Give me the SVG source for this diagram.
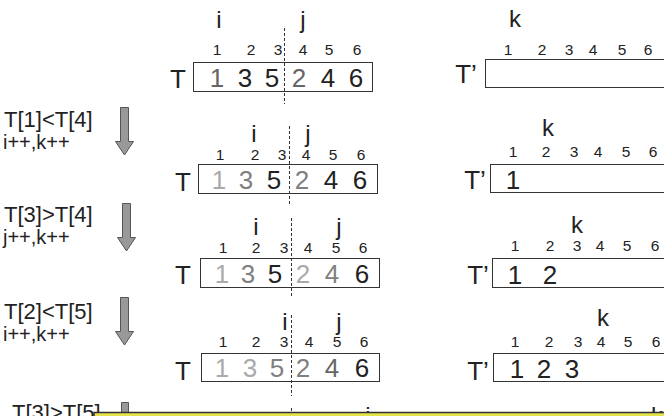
<svg xmlns="http://www.w3.org/2000/svg" width="664" height="416" viewBox="0 0 664 416">
<style>
text{font-family:"Liberation Sans",Arial,sans-serif;fill:#222}
.ptr{font-size:24px;text-anchor:middle}
.idx{font-size:15.5px;text-anchor:middle}
.val{font-size:26px;text-anchor:middle}
.lbl{font-size:26px;text-anchor:middle}
.cond{font-size:22px}
.inc{font-size:20px}
.box{fill:#fff;stroke:#333;stroke-width:1}
.dash{stroke:#333;stroke-width:1;stroke-dasharray:3,2;fill:none}
.arr{fill:#999;stroke:#555;stroke-width:1}
.g1{fill:#aaa}.g2{fill:#808080}.g3{fill:#666}
</style>
<rect width="664" height="416" fill="#fff"/>

<g id="row1">
<g id="T1">
<text class="ptr" x="219" y="28">i</text>
<text class="ptr" x="303" y="28">j</text>
<text class="idx" x="217" y="55">1</text><text class="idx" x="251" y="55">2</text><text class="idx" x="278" y="55">3</text><text class="idx" x="303" y="55">4</text><text class="idx" x="329" y="55">5</text><text class="idx" x="357" y="55">6</text>
<text class="lbl" x="178" y="88">T</text>
<rect class="box" x="193.5" y="62.5" width="179" height="29"/>
<text class="val g3" x="217" y="87">1</text><text class="val" x="245" y="87">3</text><text class="val" x="272" y="87">5</text><text class="val g3" x="299" y="87">2</text><text class="val" x="328" y="87">4</text><text class="val" x="356" y="87">6</text>
<line class="dash" x1="284.5" y1="28" x2="284.5" y2="104"/>
</g>
<g id="Tp1">
<text class="ptr" x="515" y="27">k</text>
<text class="idx" x="508" y="55">1</text><text class="idx" x="542" y="55">2</text><text class="idx" x="569" y="55">3</text><text class="idx" x="593" y="55">4</text><text class="idx" x="622" y="55">5</text><text class="idx" x="648" y="55">6</text>
<text class="lbl" x="466" y="83">T’</text>
<rect class="box" x="485.5" y="59.5" width="190" height="28"/>
</g>
</g>

<g id="row2">
<g id="cond2"><text class="cond" x="4" y="127">T[1]&lt;T[4]</text><text class="inc" x="3" y="149">i++,k++</text></g>
<g id="T2">
<text class="ptr" x="254" y="142">i</text>
<text class="ptr" x="308" y="142">j</text>
<text class="idx" x="220" y="160">1</text><text class="idx" x="255" y="160">2</text><text class="idx" x="282" y="160">3</text><text class="idx" x="306" y="160">4</text><text class="idx" x="333" y="160">5</text><text class="idx" x="361" y="160">6</text>
<text class="lbl" x="183" y="191">T</text>
<rect class="box" x="198.5" y="164.5" width="179" height="29"/>
<text class="val g1" x="219" y="189">1</text><text class="val g2" x="246" y="189">3</text><text class="val" x="274" y="189">5</text><text class="val g2" x="302" y="189">2</text><text class="val" x="331" y="189">4</text><text class="val" x="360" y="189">6</text>
<line class="dash" x1="289.5" y1="126" x2="289.5" y2="204"/>
</g>
<g id="Tp2">
<text class="ptr" x="548" y="136">k</text>
<text class="idx" x="513" y="157">1</text><text class="idx" x="546" y="157">2</text><text class="idx" x="574" y="157">3</text><text class="idx" x="598" y="157">4</text><text class="idx" x="626" y="157">5</text><text class="idx" x="653" y="157">6</text>
<text class="lbl" x="475" y="189">T’</text>
<rect class="box" x="490.5" y="164.5" width="190" height="28"/>
<text class="val" x="513" y="189">1</text>
</g>
</g>

<g id="row3">
<g id="cond3"><text class="cond" x="4" y="222">T[3]&gt;T[4]</text><text class="inc" x="3" y="244">j++,k++</text></g>
<g id="T3">
<text class="ptr" x="256" y="235">i</text>
<text class="ptr" x="339" y="235">j</text>
<text class="idx" x="223" y="253">1</text><text class="idx" x="256" y="253">2</text><text class="idx" x="284" y="253">3</text><text class="idx" x="308" y="253">4</text><text class="idx" x="336" y="253">5</text><text class="idx" x="363" y="253">6</text>
<text class="lbl" x="183" y="284">T</text>
<rect class="box" x="200.5" y="258.5" width="179" height="29"/>
<text class="val g1" x="222" y="283">1</text><text class="val g2" x="248" y="283">3</text><text class="val" x="275" y="283">5</text><text class="val g1" x="303" y="283">2</text><text class="val g2" x="332" y="283">4</text><text class="val" x="362" y="283">6</text>
<line class="dash" x1="291.5" y1="218" x2="291.5" y2="298"/>
</g>
<g id="Tp3">
<text class="ptr" x="577" y="233">k</text>
<text class="idx" x="515" y="251">1</text><text class="idx" x="550" y="251">2</text><text class="idx" x="577" y="251">3</text><text class="idx" x="600" y="251">4</text><text class="idx" x="627" y="251">5</text><text class="idx" x="655" y="251">6</text>
<text class="lbl" x="478" y="284">T’</text>
<rect class="box" x="492.5" y="258.5" width="190" height="29"/>
<text class="val" x="515" y="284">1</text><text class="val" x="550" y="284">2</text>
</g>
</g>

<g id="row4">
<g id="cond4"><text class="cond" x="4" y="319">T[2]&lt;T[5]</text><text class="inc" x="3" y="341">i++,k++</text></g>
<g id="T4">
<text class="ptr" x="285" y="330">i</text>
<text class="ptr" x="339" y="330">j</text>
<text class="idx" x="223" y="347">1</text><text class="idx" x="256" y="347">2</text><text class="idx" x="284" y="347">3</text><text class="idx" x="309" y="347">4</text><text class="idx" x="337" y="347">5</text><text class="idx" x="364" y="347">6</text>
<text class="lbl" x="183" y="380">T</text>
<rect class="box" x="201.5" y="353.5" width="178" height="28"/>
<text class="val g1" x="222" y="377">1</text><text class="val g1" x="250" y="377">3</text><text class="val g2" x="277" y="377">5</text><text class="val g2" x="303" y="377">2</text><text class="val g3" x="332" y="377">4</text><text class="val" x="362" y="377">6</text>
<line class="dash" x1="291.5" y1="315" x2="291.5" y2="396"/>
</g>
<g id="Tp4">
<text class="ptr" x="603" y="326">k</text>
<text class="idx" x="515" y="347">1</text><text class="idx" x="549" y="347">2</text><text class="idx" x="578" y="347">3</text><text class="idx" x="601" y="347">4</text><text class="idx" x="628" y="347">5</text><text class="idx" x="656" y="347">6</text>
<text class="lbl" x="478" y="380">T’</text>
<rect class="box" x="493.5" y="353.5" width="190" height="28"/>
<text class="val" x="517" y="378">1</text><text class="val" x="544" y="378">2</text><text class="val" x="572" y="378">3</text>
</g>
</g>

<g id="row5">
<text class="cond" x="12" y="420">T[3]&gt;T[5]</text>
<line class="dash" x1="291.5" y1="408" x2="291.5" y2="416"/>
<text class="ptr" x="368" y="424">j</text>
<text class="ptr" x="657" y="424">k</text>
</g>

<g id="connectors">
<path class="arr" d="M120.5,107.5 H128.5 V141.5 H133.5 L124.5,155 L115.5,141.5 H120.5 Z"/>
<path class="arr" d="M122.5,203.5 H130.5 V237.5 H135.5 L126.5,251 L117.5,237.5 H122.5 Z"/>
<path class="arr" d="M120.5,297.5 H128.5 V331.5 H133.5 L124.5,345 L115.5,331.5 H120.5 Z"/>
<path class="arr" d="M121.5,402.5 H128.5 V430 H121.5 Z"/>
</g>

<g id="panel">
<rect x="94" y="412.5" width="580" height="12" fill="#e4e44a" stroke="#333" stroke-width="1.5"/>
</g>
</svg>
